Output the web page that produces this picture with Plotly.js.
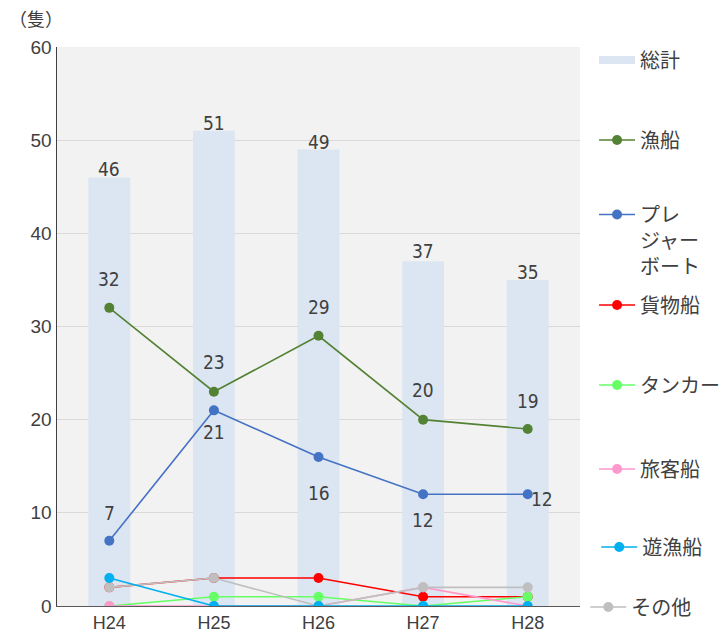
<!DOCTYPE html>
<html>
<head>
<meta charset="utf-8">
<script src="https://cdn.plot.ly/plotly-3.0.1.min.js"></script>
<style>
  html, body { margin: 0; padding: 0; background: #ffffff; }
  #chart { width: 728px; height: 641px; }
</style>
</head>
<body>
<div id="chart"></div>
<script>
// 年度別・船種別の船舶事故隻数
const years = ['H24', 'H25', 'H26', 'H27', 'H28'];
const total = [46, 51, 49, 37, 35];
const fishing = [32, 23, 29, 20, 19];
const pleasure = [7, 21, 16, 12, 12];
const cargo = [2, 3, 3, 1, 1];
const tanker = [0, 1, 1, 0, 1];
const passenger = [0, 0, 0, 2, 0];
const recreationalFishing = [3, 0, 0, 0, 0];
const other = [2, 3, 0, 2, 2];

const textColor = '#404040';
const numFont = { family: 'Liberation Sans Narrow, DejaVu Sans Condensed, sans-serif', size: 19, color: textColor };
const jpFont = 'Noto Sans CJK JP, sans-serif';
const legendFont = { family: jpFont, size: 20, color: textColor };

function lineTrace(name, values, color, legendId) {
  return {
    type: 'scatter',
    mode: 'lines+markers',
    name: name,
    x: years,
    y: values,
    legend: legendId,
    line: { color: color, width: 1.6 },
    marker: { color: color, size: 10 },
    hoverinfo: 'skip'
  };
}

const traces = [
  {
    type: 'bar',
    name: '総計',
    x: years,
    y: total,
    showlegend: false,
    width: 0.4,
    marker: { color: '#dce6f2' },
    hoverinfo: 'skip'
  },
  // legend key for the total bars, drawn as a wide pale band
  {
    type: 'scatter',
    mode: 'lines',
    name: '総計',
    x: [null],
    y: [null],
    legend: 'legend',
    line: { color: '#dce6f2', width: 8 },
    hoverinfo: 'skip'
  },
  lineTrace('漁船', fishing, '#548235', 'legend2'),
  lineTrace('プレ<br>ジャー<br>ボート', pleasure, '#4472c4', 'legend3'),
  lineTrace('貨物船', cargo, '#ff0000', 'legend4'),
  lineTrace('タンカー', tanker, '#66ff66', 'legend5'),
  lineTrace('旅客船', passenger, '#ff99cc', 'legend6'),
  lineTrace('その他', other, '#bfbfbf', 'legend8'),
  lineTrace('遊漁船', recreationalFishing, '#00b0f0', 'legend7')
];

// value labels placed relative to each point
function valueLabels(values, shifts) {
  return values.map((v, i) => ({
    x: years[i],
    y: v,
    xref: 'x', yref: 'y',
    text: String(v),
    showarrow: false,
    xanchor: 'center', yanchor: 'middle',
    xshift: shifts[i][0],
    yshift: shifts[i][1],
    font: numFont
  }));
}

const totalLabels = valueLabels(total, [[0, 8], [0, 8], [0, 7], [0, 10], [0, 8]]);
const fishingLabels = valueLabels(fishing, [[0, 29], [0, 30], [0, 29], [0, 30], [0, 28]]);
const pleasureLabels = valueLabels(pleasure, [[0, 28], [0, -22], [0, -36], [0, -26], [14, -5]]);

// one legend box per series, placed in container coordinates
function legendAt(x, y, anchor, valign) {
  return {
    xref: 'container', yref: 'container',
    x: x, xanchor: 'left',
    y: y, yanchor: anchor || 'middle',
    valign: valign || 'middle',
    font: legendFont,
    bgcolor: 'rgba(0,0,0,0)',
    itemwidth: 36
  };
}

const H = 641;
const layout = {
  width: 728,
  height: H,
  margin: { l: 57, r: 148, t: 47, b: 35, autoexpand: false },
  paper_bgcolor: '#ffffff',
  plot_bgcolor: '#f2f2f2',
  font: { family: jpFont, color: textColor, size: 16 },
  showlegend: true,
  legend: legendAt(0.816, 1 - 60 / H),
  legend2: legendAt(0.816, 1 - 140 / H),
  legend3: legendAt(0.816, 1 - 195 / H, 'top', 'top'),
  legend4: legendAt(0.816, 1 - 305 / H),
  legend5: legendAt(0.816, 1 - 385 / H),
  legend6: legendAt(0.816, 1 - 469 / H),
  legend7: legendAt(0.819, 1 - 547 / H),
  legend8: legendAt(0.804, 1 - 607 / H),
  xaxis: {
    type: 'category',
    categoryorder: 'array',
    categoryarray: years,
    showgrid: false,
    showline: true,
    linecolor: '#595959',
    linewidth: 1,
    ticks: '',
    tickfont: { family: 'Liberation Sans, Arial, sans-serif', size: 18, color: textColor },
    fixedrange: true
  },
  yaxis: {
    range: [0, 60],
    dtick: 10,
    showgrid: true,
    gridcolor: '#d9d9d9',
    gridwidth: 1,
    zeroline: false,
    showline: true,
    linecolor: '#404040',
    linewidth: 1.5,
    ticks: '',
    tickfont: { family: 'Liberation Sans, Arial, sans-serif', size: 19, color: textColor },
    fixedrange: true
  },
  annotations: [
    {
      text: '（隻）',
      xref: 'paper', yref: 'paper',
      x: -0.04, y: 1.0,
      xanchor: 'center', yanchor: 'bottom',
      yshift: 14,
      showarrow: false,
      font: { family: jpFont, size: 18, color: textColor }
    }
  ].concat(totalLabels, fishingLabels, pleasureLabels)
};

Plotly.newPlot('chart', traces, layout, { displayModeBar: false, staticPlot: true });
</script>
</body>
</html>
